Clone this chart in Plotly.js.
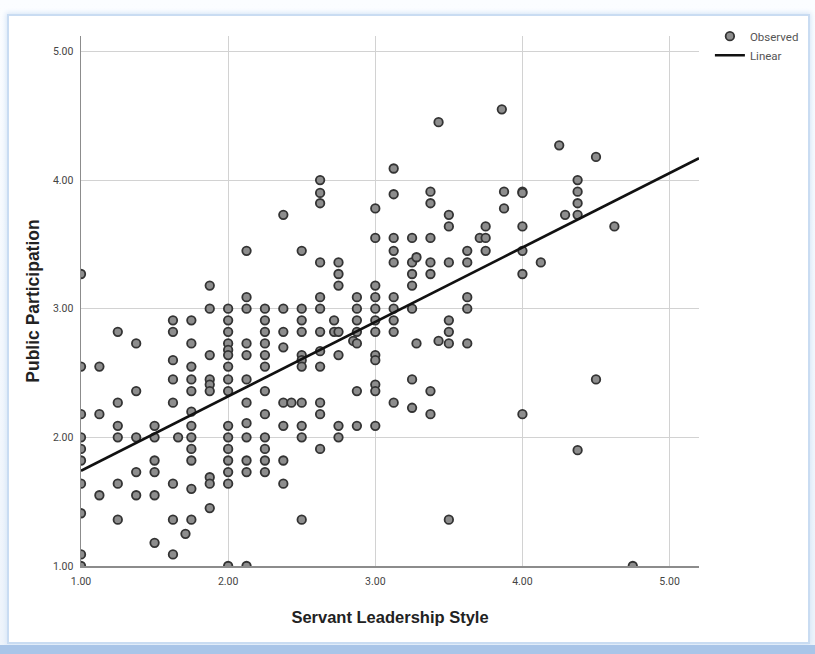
<!DOCTYPE html>
<html>
<head>
<meta charset="utf-8">
<script src="https://cdn.plot.ly/plotly-3.0.1.min.js"></script>
<style>
  html, body { margin:0; padding:0; }
  body { width:815px; height:654px; position:relative; overflow:hidden;
         background: linear-gradient(#fbfdff, #eef4fb); }
  #frame { position:absolute; left:7px; top:14px; width:799px; height:626px;
           border:2px solid #c9dcf2; background:#ffffff;
           box-shadow: 0 0 5px 1px #d6e5f7; }
  #band { position:absolute; left:0; top:645px; width:815px; height:9px; background:#a9c5e8; }
  #chart { position:absolute; left:0; top:0; width:815px; height:654px; }
</style>
</head>
<body>
<div id="frame"></div>
<div id="band"></div>
<div id="chart"></div>
<script>
// Observed points: Servant Leadership Style (x) vs Public Participation (y)
const obsX = [
  1,1,1,1,1,1,1,1,1,1,
  1.125,1.125,1.125,
  1.25,1.25,1.25,1.25,1.25,1.25,
  1.375,1.375,1.375,1.375,1.375,
  1.5,1.5,1.5,1.5,1.5,1.5,
  1.625,1.625,1.625,1.625,1.625,1.625,1.625,1.625,
  1.66,1.71,
  1.75,1.75,1.75,1.75,1.75,1.75,1.75,1.75,1.75,1.75,1.75,1.75,
  1.875,1.875,1.875,1.875,1.875,1.875,1.875,1.875,1.875,
  2,2,2,2,2,2,2,2,2,2,2,2,2,2,2,2,
  2.125,2.125,2.125,2.125,2.125,2.125,2.125,2.125,2.125,2.125,2.125,2.125,
  2.25,2.25,2.25,2.25,2.25,2.25,2.25,2.25,2.25,2.25,2.25,2.25,
  2.375,2.375,2.375,2.375,2.375,2.375,2.375,2.375,
  2.43,
  2.5,2.5,2.5,2.5,2.5,2.5,2.5,2.5,2.5,2.5,2.5,
  2.625,2.625,2.625,2.625,2.625,2.625,2.625,2.625,2.625,2.625,2.625,2.625,
  2.72,2.72,
  2.75,2.75,2.75,2.75,2.75,2.75,2.75,
  2.85,
  2.875,2.875,2.875,2.875,2.875,2.875,2.875,
  3,3,3,3,3,3,3,3,3,3,3,3,
  3.125,3.125,3.125,3.125,3.125,3.125,3.125,3.125,3.125,3.125,
  3.25,3.25,3.25,3.25,3.25,3.25,3.25,
  3.28,3.28,
  3.375,3.375,3.375,3.375,3.375,3.375,3.375,
  3.43,3.43,
  3.5,3.5,3.5,3.5,3.5,3.5,3.5,
  3.625,3.625,3.625,3.625,3.625,
  3.71,
  3.75,3.75,3.75,
  3.86,
  3.875,3.875,
  4,4,4,4,4,4,
  4.125,
  4.25,
  4.29,
  4.375,4.375,4.375,4.375,4.375,
  4.5,4.5,
  4.625,
  4.75
];
const obsY = [
  3.27,2.55,2.18,2.0,1.91,1.82,1.64,1.41,1.09,1.0,
  2.55,2.18,1.55,
  2.82,2.27,2.09,2.0,1.64,1.36,
  2.73,2.36,2.0,1.73,1.55,
  2.09,2.0,1.82,1.73,1.55,1.18,
  2.91,2.82,2.6,2.45,2.27,1.64,1.36,1.09,
  2.0,1.25,
  2.91,2.73,2.55,2.45,2.36,2.2,2.09,2.0,1.91,1.82,1.6,1.36,
  3.18,3.0,2.64,2.45,2.41,2.36,1.69,1.64,1.45,
  3.0,2.91,2.82,2.73,2.68,2.64,2.55,2.45,2.36,2.09,2.0,1.91,1.82,1.73,1.64,1.0,
  3.45,3.09,3.0,2.73,2.64,2.45,2.27,2.11,2.0,1.82,1.73,1.0,
  3.0,2.91,2.82,2.73,2.64,2.55,2.36,2.18,2.0,1.91,1.82,1.73,
  3.73,3.0,2.82,2.7,2.27,2.09,1.82,1.64,
  2.27,
  3.45,3.0,2.91,2.82,2.64,2.6,2.55,2.27,2.09,2.0,1.36,
  4.0,3.9,3.82,3.36,3.09,3.0,2.82,2.67,2.55,2.27,2.18,1.91,
  2.91,2.82,
  3.36,3.27,3.18,2.82,2.64,2.09,2.0,
  2.75,
  3.09,3.0,2.91,2.82,2.73,2.36,2.09,
  3.78,3.55,3.18,3.09,3.0,2.91,2.82,2.64,2.6,2.41,2.36,2.09,
  4.09,3.89,3.55,3.45,3.36,3.09,3.0,2.91,2.82,2.27,
  3.55,3.36,3.27,3.18,3.0,2.45,2.23,
  3.4,2.73,
  3.91,3.82,3.55,3.36,3.27,2.36,2.18,
  4.45,2.75,
  3.73,3.64,3.36,2.91,2.82,2.73,1.36,
  3.45,3.36,3.09,3.0,2.73,
  3.55,
  3.64,3.55,3.45,
  4.55,
  3.91,3.78,
  3.91,3.9,3.64,3.45,3.27,2.18,
  3.36,
  4.27,
  3.73,
  4.0,3.91,3.82,3.73,1.9,
  4.18,2.45,
  3.64,
  1.0
];
// Linear fit line endpoints
const fitX = [1.0, 5.2];
const fitY = [1.74, 4.17];
const tickVals = [1, 2, 3, 4, 5];
const tickText = ["1.00", "2.00", "3.00", "4.00", "5.00"];

const narrow = "Liberation Sans Narrow, Arial Narrow, Roboto, Liberation Sans, sans-serif";
const bold = "Liberation Sans, Arial, sans-serif";

const traces = [
  { type: 'scatter', mode: 'markers', name: 'Observed', x: obsX, y: obsY,
    marker: { size: 8.5, color: '#8d8d8d', line: { color: '#333333', width: 1.8 } },
    cliponaxis: true },
  { type: 'scatter', mode: 'lines', name: 'Linear', x: fitX, y: fitY,
    line: { color: '#111111', width: 2.6 } }
];

const axisCommon = {
  showgrid: true, gridcolor: '#d2d2d2', gridwidth: 1,
  showline: true, linecolor: '#8c8c8c', linewidth: 1.5,
  zeroline: false, ticks: '', tickvals: tickVals, ticktext: tickText,
  tickfont: { family: narrow, size: 10.5, color: '#444444' },
  fixedrange: true
};

const layout = {
  width: 815, height: 654,
  margin: { l: 81, r: 115, t: 36, b: 88 },
  paper_bgcolor: 'rgba(0,0,0,0)', plot_bgcolor: '#ffffff',
  showlegend: true,
  legend: { x: 1.016, y: 1.027, xanchor: 'left', yanchor: 'top',
            bgcolor: 'rgba(0,0,0,0)', itemwidth: 30, tracegroupgap: 0,
            font: { family: narrow, size: 11.5, color: '#555555' } },
  xaxis: Object.assign({}, axisCommon, {
    range: [1, 5.2], ticklabelstandoff: 5,
    title: { text: 'Servant Leadership Style', standoff: 24,
             font: { family: bold, size: 16.5, weight: 'bold', color: '#222222' } }
  }),
  yaxis: Object.assign({}, axisCommon, {
    range: [1, 5.12], ticklabelstandoff: 4,
    title: { text: 'Public Participation', standoff: 9,
             font: { family: bold, size: 17.5, weight: 'bold', color: '#222222' } }
  })
};

Plotly.newPlot('chart', traces, layout, { displayModeBar: false, staticPlot: true });
</script>
</body>
</html>
